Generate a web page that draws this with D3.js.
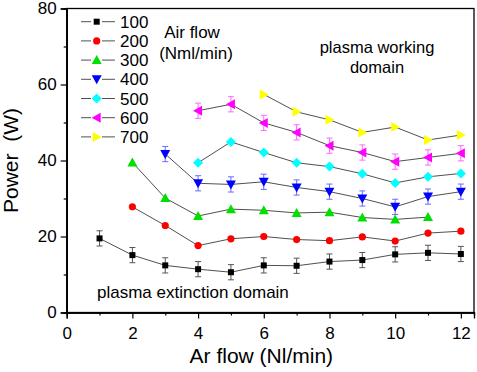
<!DOCTYPE html>
<html><head><meta charset="utf-8">
<script src="https://cdn.jsdelivr.net/npm/d3@7"></script>
<style>body{margin:0;background:#fff}svg{display:block}text{font-family:"Liberation Sans",Arial,sans-serif;fill:#000}</style>
</head><body><svg id="c" width="477" height="372"></svg>
<script>
const arFlow = [1,2,3,4,5,6,7,8,9,10,11,12];
const seriesNames = ["100","200","300","400","500","600","700"];
const s100 = [19.5,15.1,12.4,11.4,10.6,12.4,12.3,13.4,13.8,15.3,15.7,15.4];
const s200 = [null,27.8,22.9,17.6,19.4,20.0,19.2,18.9,19.9,18.8,20.9,21.4];
const s300 = [null,39.5,30.1,25.4,27.2,26.9,26.2,26.4,25.0,24.5,25.1,null];
const s400 = [null,null,41.7,34.0,33.7,34.4,32.9,31.8,30.0,27.8,30.5,31.8];
const s500 = [null,null,null,39.4,44.9,42.1,39.4,38.4,36.5,34.1,35.7,36.6];
const s600 = [null,null,null,53.1,54.8,49.9,47.4,43.9,42.1,39.7,40.8,41.9];
const s700 = [null,null,null,null,null,57.4,52.8,50.7,47.4,48.8,45.4,46.7];
const err100 = 2.0, err400 = 2.0, err600 = 2.0;
const xTicks = [0,2,4,6,8,10,12];
const yTicks = [0,20,40,60,80];

const allSeries = [s100,s200,s300,s400,s500,s600,s700];
const errs = [err100,0,0,err400,0,err600,0];
const colors = ["#000000","#ff0000","#00e000","#0000ff","#00ffff","#ff00ff","#ffff00"];
const errColors = ["#555555",null,null,"#6a6aff",null,"#ff66ff",null];
const shapes = ["square","circle","up","down","diamond","left","right"];

const svg = d3.select("#c");
const L=66.7, R=474, T=8.5, B=312.5;
const x = d3.scaleLinear().domain([0,12.4]).range([L,R]);
const y = d3.scaleLinear().domain([0,80]).range([B,T]);

function marker(g, shape, cx, cy, color){
  let p;
  if(shape==="square") p=g.append("rect").attr("x",cx-3).attr("y",cy-3).attr("width",6).attr("height",6);
  else if(shape==="circle") p=g.append("circle").attr("cx",cx).attr("cy",cy).attr("r",3.6);
  else {
    const s=5;
    let pts;
    if(shape==="up") pts=[[cx,cy-s],[cx+s,cy+s*0.8],[cx-s,cy+s*0.8]];
    else if(shape==="down") pts=[[cx,cy+s],[cx+s,cy-s*0.8],[cx-s,cy-s*0.8]];
    else if(shape==="left") pts=[[cx-s,cy],[cx+s*0.8,cy-s],[cx+s*0.8,cy+s]];
    else if(shape==="right") pts=[[cx+s,cy],[cx-s*0.8,cy-s],[cx-s*0.8,cy+s]];
    else pts=[[cx,cy-5],[cx+5,cy],[cx,cy+5],[cx-5,cy]];
    p=g.append("polygon").attr("points",pts.map(d=>d.join(",")).join(" "));
  }
  p.attr("fill",color);
}

// frame
svg.append("rect").attr("x",L).attr("y",T).attr("width",R-L).attr("height",B-T)
  .attr("fill","none").attr("stroke","#000").attr("stroke-width",1.3);

// axes
const xa = svg.append("g").attr("transform",`translate(0,${B})`)
  .call(d3.axisBottom(x).tickValues(xTicks).tickSize(6).tickPadding(4).tickFormat(d3.format("d")));
const xm = svg.append("g").attr("transform",`translate(0,${B})`)
  .call(d3.axisBottom(x).tickValues([1,3,5,7,9,11]).tickSize(3).tickFormat(""));
const ya = svg.append("g").attr("transform",`translate(${L},0)`)
  .call(d3.axisLeft(y).tickValues(yTicks).tickSize(6).tickPadding(4).tickFormat(d3.format("d")));
const ym = svg.append("g").attr("transform",`translate(${L},0)`)
  .call(d3.axisLeft(y).tickValues([10,30,50,70]).tickSize(3).tickFormat(""));
[xa,xm,ya,ym].forEach(a=>{a.select(".domain").attr("stroke-width",1.3);a.selectAll(".tick line").attr("stroke-width",1.2);});
[xa,ya].forEach(a=>a.selectAll(".tick text").attr("font-size",17).style("font-family","Liberation Sans, Arial"));
xa.selectAll(".tick text").attr("dy","0.95em");

svg.append("text").attr("x",(L+R)/2-9).attr("y",363).attr("text-anchor","middle").attr("font-size",21).text("Ar flow (Nl/min)");
svg.append("text").attr("transform",`translate(18,${(T+B)/2}) rotate(-90)`).attr("text-anchor","middle").attr("font-size",21).attr("xml:space","preserve").text("Power  (W)");

// series
allSeries.forEach((vals,i)=>{
  const pts = arFlow.map((a,j)=>({a,v:vals[j]})).filter(d=>d.v!=null);
  const g = svg.append("g");
  g.append("path").datum(pts).attr("fill","none").attr("stroke","#505050").attr("stroke-width",1)
    .attr("d",d3.line().x(d=>x(d.a)).y(d=>y(d.v)));
  if(errs[i]>0){
    pts.forEach(d=>{
      const e=errs[i], cx=x(d.a);
      g.append("line").attr("x1",cx).attr("x2",cx).attr("y1",y(d.v-e)).attr("y2",y(d.v+e)).attr("stroke",errColors[i]).attr("stroke-width",1);
      [d.v-e,d.v+e].forEach(v=>g.append("line").attr("x1",cx-3).attr("x2",cx+3).attr("y1",y(v)).attr("y2",y(v)).attr("stroke",errColors[i]).attr("stroke-width",1));
    });
  }
  pts.forEach(d=>marker(g,shapes[i],x(d.a),y(d.v),colors[i]));
});

// legend
seriesNames.forEach((n,i)=>{
  const yy = 21.7 + i*19.2;
  const g = svg.append("g");
  g.append("line").attr("x1",81).attr("x2",91).attr("y1",yy).attr("y2",yy).attr("stroke","#505050");
  g.append("line").attr("x1",102).attr("x2",115).attr("y1",yy).attr("y2",yy).attr("stroke","#505050");
  marker(g,shapes[i],96.7,yy,colors[i]);
  g.append("text").attr("x",120).attr("y",yy+6).attr("font-size",17).text(n);
});

svg.append("text").attr("x",192).attr("y",38).attr("text-anchor","middle").attr("font-size",17).text("Air flow");
svg.append("text").attr("x",196).attr("y",59).attr("text-anchor","middle").attr("font-size",17).text("(Nml/min)");
svg.append("text").attr("x",377).attr("y",53).attr("text-anchor","middle").attr("font-size",16.5).text("plasma working");
svg.append("text").attr("x",377).attr("y",73).attr("text-anchor","middle").attr("font-size",16.5).text("domain");
svg.append("text").attr("x",97).attr("y",298).attr("font-size",17).text("plasma extinction domain");
</script></body></html>
